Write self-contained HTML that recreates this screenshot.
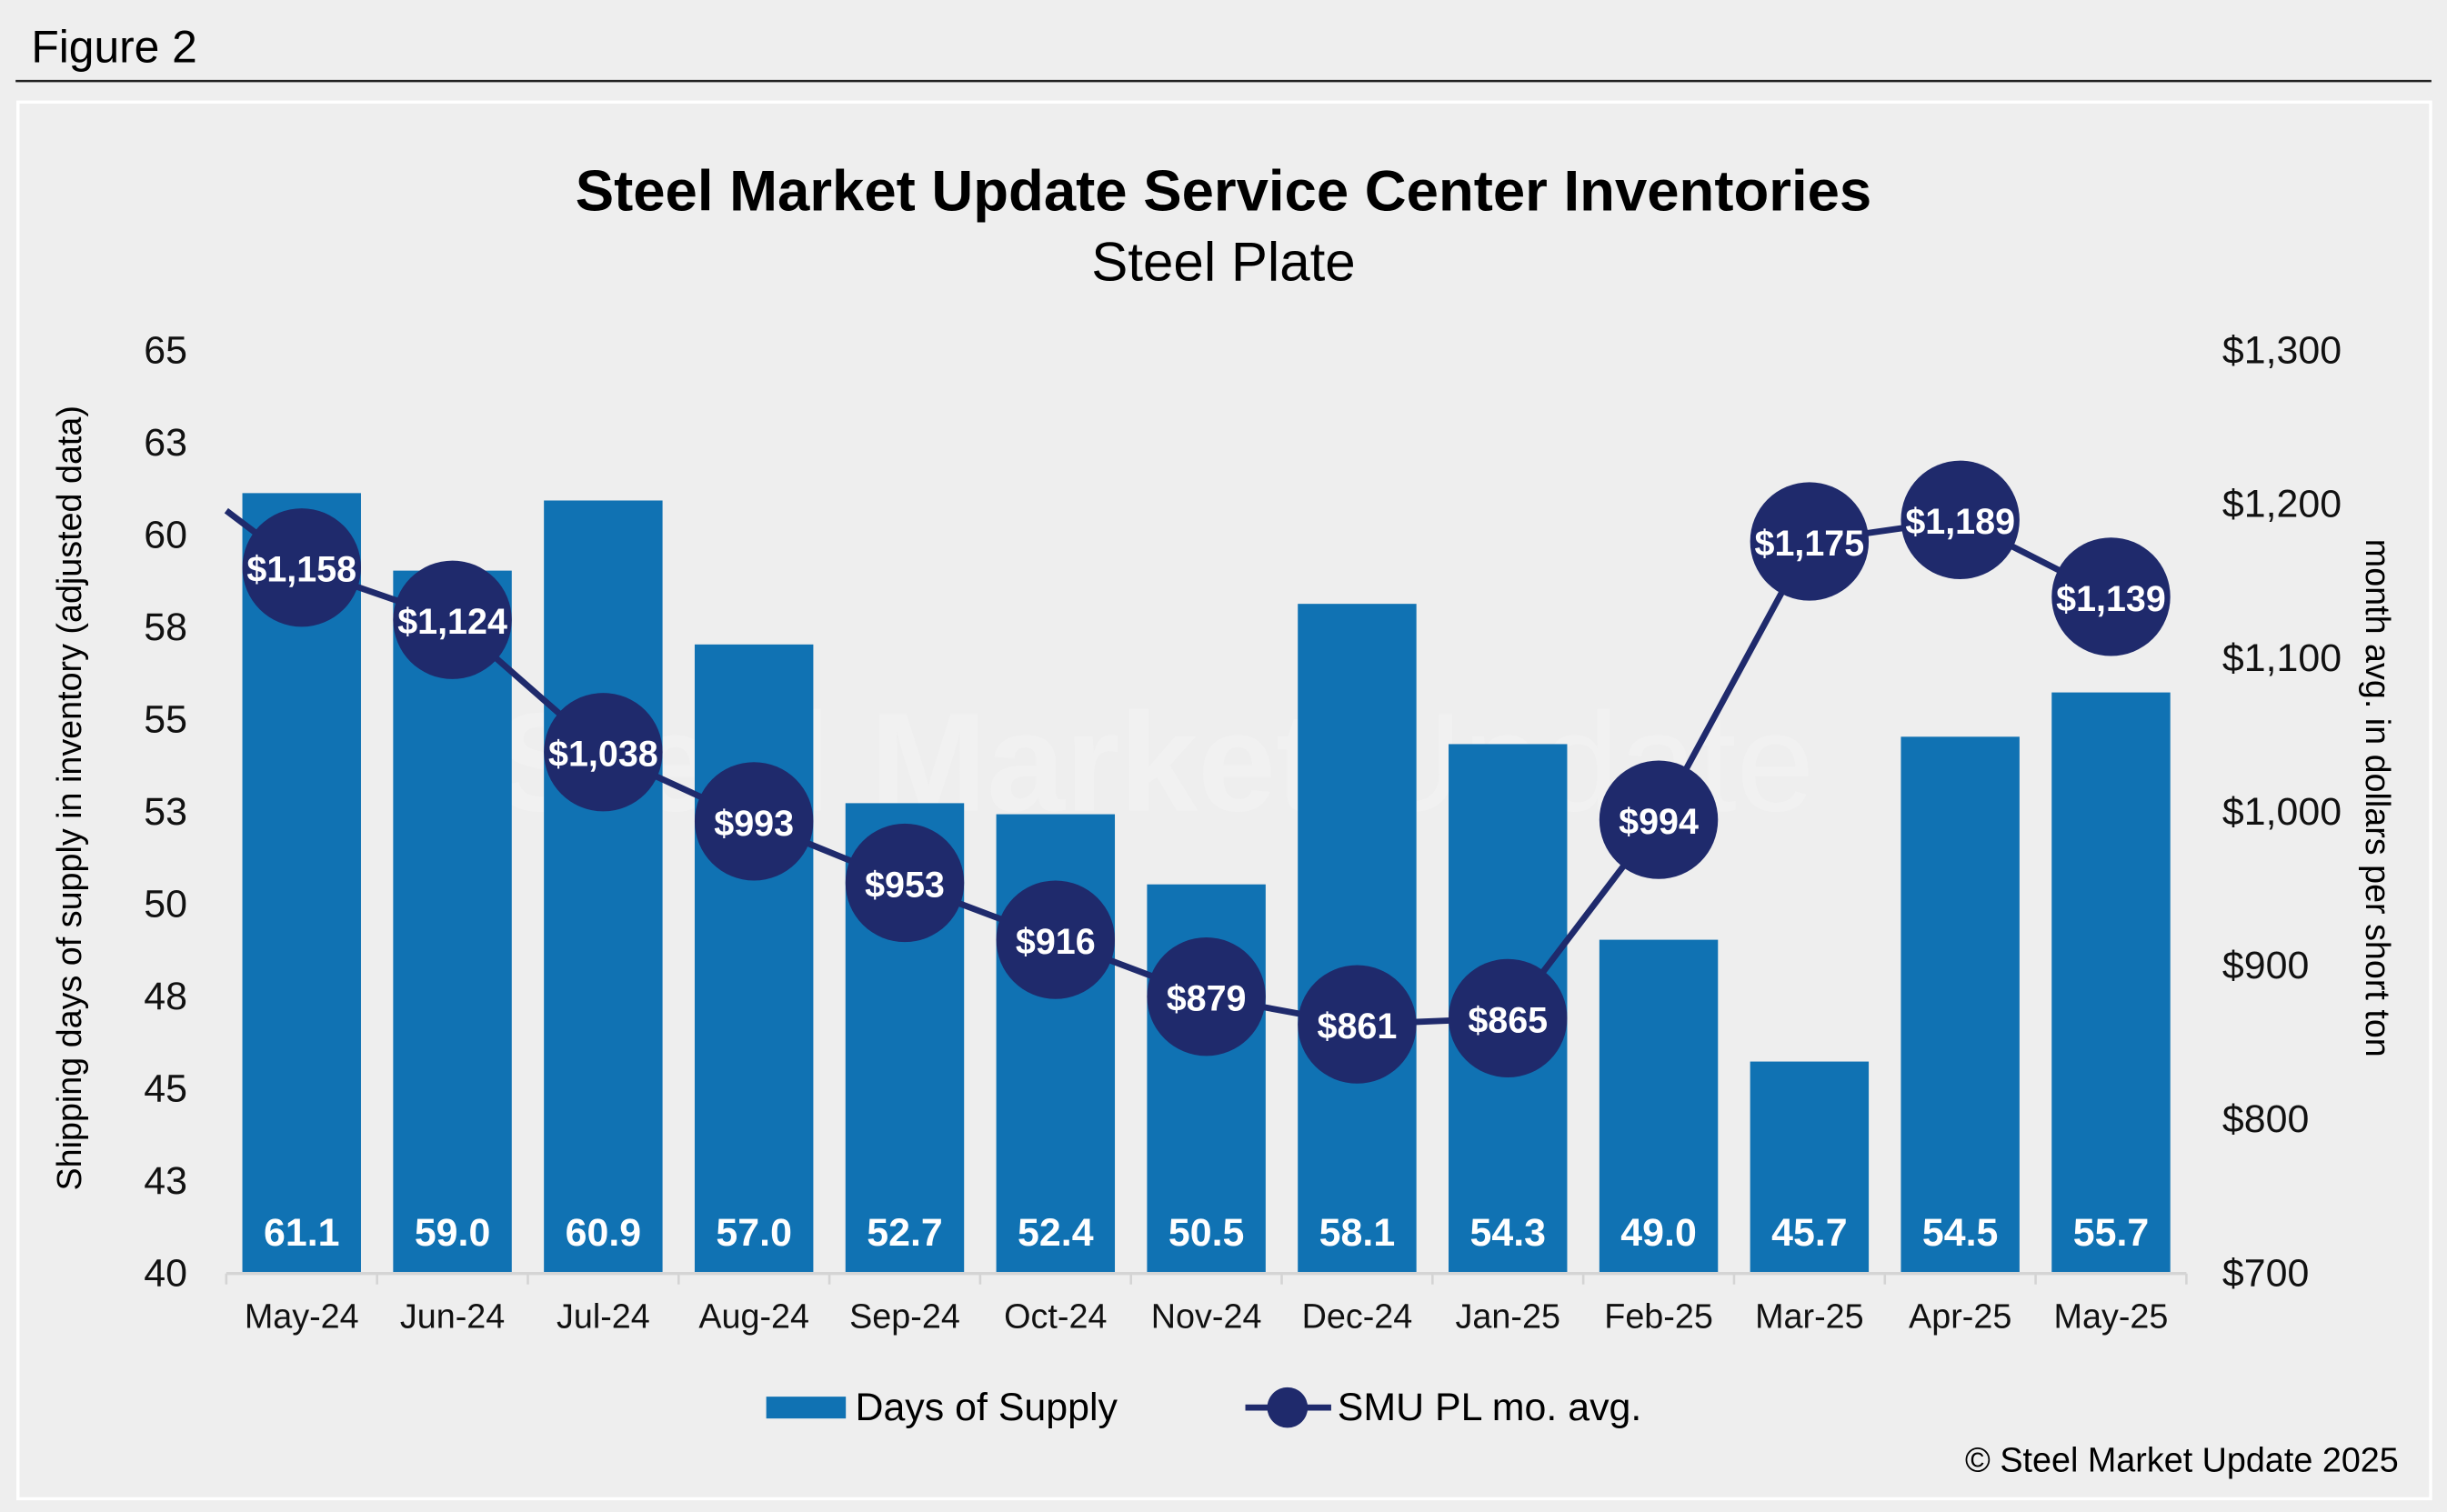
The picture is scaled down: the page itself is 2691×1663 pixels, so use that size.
<!DOCTYPE html>
<html><head><meta charset="utf-8"><style>
html,body{margin:0;padding:0;background:#eeeeee;}
svg{display:block;font-family:"Liberation Sans",sans-serif;}
</style></head><body>
<svg id="chart" width="2691" height="1663" viewBox="0 0 1568 970" preserveAspectRatio="none" xmlns="http://www.w3.org/2000/svg">
<rect x="0" y="0" width="1568" height="970" fill="#eeeeee"/>
<text x="20" y="40" font-size="29" fill="#000">Figure 2</text>
<line x1="10" y1="52" x2="1558" y2="52" stroke="#222" stroke-width="1.5"/>
<rect x="11.5" y="65.5" width="1546" height="896" fill="#eeeeee" stroke="#ffffff" stroke-width="2"/>
<text x="784" y="135" font-size="37" font-weight="bold" text-anchor="middle">Steel Market Update Service Center Inventories</text>
<text x="784" y="180" font-size="35" text-anchor="middle">Steel Plate</text>
<g opacity="0.22">
<text x="740" y="520" font-size="90" font-weight="bold" fill="#fff" text-anchor="middle">Steel Market <tspan font-weight="normal">Update</tspan></text>
</g>
<text transform="translate(52,512) rotate(-90)" font-size="22" text-anchor="middle">Shipping days of supply in inventory (adjusted data)</text>
<text transform="translate(1516,512) rotate(90)" font-size="22" text-anchor="middle">month avg. in dollars per short ton</text>
<g id="plot"></g>
<g>
<rect x="491" y="896" width="51" height="14" fill="#1072b3"/>
<text x="548" y="911" font-size="25">Days of Supply</text>
<line x1="798" y1="903" x2="853" y2="903" stroke="#1f2a6c" stroke-width="4"/>
<circle cx="825" cy="903" r="13" fill="#1f2a6c"/>
<text x="857" y="911" font-size="25">SMU PL mo. avg.</text>
</g>
<text x="1537" y="944" font-size="22" text-anchor="end">© Steel Market Update 2025</text>
</svg>
<script>
const categories = ["May-24","Jun-24","Jul-24","Aug-24","Sep-24","Oct-24","Nov-24","Dec-24","Jan-25","Feb-25","Mar-25","Apr-25","May-25"];
const daysOfSupply = [61.1,59.0,60.9,57.0,52.7,52.4,50.5,58.1,54.3,49.0,45.7,54.5,55.7];
const priceValues = [1158,1124,1038,993,953,916,879,861,865,994,1175,1189,1139];
const priorPrice = 1195;
const leftTickLabels = ["40","43","45","48","50","53","55","58","60","63","65"];
const rightTickLabels = ["$700","$800","$900","$1,000","$1,100","$1,200","$1,300"];

const NS="http://www.w3.org/2000/svg";
const plot=document.getElementById('plot');
const X0=145, X1=1401, YB=816, YT=224;
const L_MIN=40, L_MAX=65, R_MIN=700, R_MAX=1300;
const band=(X1-X0)/categories.length;
const xC=i=>X0+band*(i+0.5);
const yL=v=>YB-(v-L_MIN)/(L_MAX-L_MIN)*(YB-YT);
const yR=v=>YB-(v-R_MIN)/(R_MAX-R_MIN)*(YB-YT);
function mk(tag,attrs,text){const e=document.createElementNS(NS,tag);for(const k in attrs)e.setAttribute(k,attrs[k]);if(text!==undefined)e.textContent=text;plot.appendChild(e);return e;}

leftTickLabels.forEach((t,i)=>{
  const v=L_MIN+i*(L_MAX-L_MIN)/(leftTickLabels.length-1);
  const e=mk('text',{x:120,y:yL(v)+9,'font-size':25,'text-anchor':'end',fill:'#111'},t);
  
  
});
rightTickLabels.forEach((t,i)=>{
  const v=R_MIN+i*(R_MAX-R_MIN)/(rightTickLabels.length-1);
  const e=mk('text',{x:1424,y:yR(v)+9,'font-size':25,fill:'#111'},t);
  
  
});
daysOfSupply.forEach((v,i)=>{
  const w=76;
  const r=mk('rect',{x:xC(i)-w/2,y:yL(v),width:w,height:YB-yL(v),fill:'#1072b3'});
  
  
  const t=mk('text',{x:xC(i),y:799,'font-size':25,'font-weight':'bold',fill:'#fff','text-anchor':'middle'},v.toFixed(1));
  
  
});
const ax=mk('line',{x1:X0,y1:YB+1,x2:X1,y2:YB+1,stroke:'#d4d4d4','stroke-width':2});


for(let i=0;i<=categories.length;i++){
  const tk=mk('line',{x1:X0+band*i,y1:YB+1,x2:X0+band*i,y2:YB+8,stroke:'#d4d4d4','stroke-width':1.5});
  
  
}
categories.forEach((c,i)=>{
  const t=mk('text',{x:xC(i),y:852,'font-size':22,'text-anchor':'middle',fill:'#111'},c);
  
  
});
let d='M'+X0+','+yR(priorPrice);
priceValues.forEach((v,i)=>{d+=' L'+xC(i)+','+yR(v);});
const ln=mk('path',{d:d,fill:'none',stroke:'#1f2a6c','stroke-width':4,'stroke-linejoin':'round'});


priceValues.forEach((v,i)=>{
  const c=mk('circle',{cx:xC(i),cy:yR(v),r:38,fill:'#1f2a6c'});
  
  
  const t=mk('text',{x:xC(i),y:yR(v)+9,'font-size':23,'font-weight':'bold',fill:'#fff','text-anchor':'middle'},'$'+v.toLocaleString('en-US'));
  
  
});
</script>
</body></html>
